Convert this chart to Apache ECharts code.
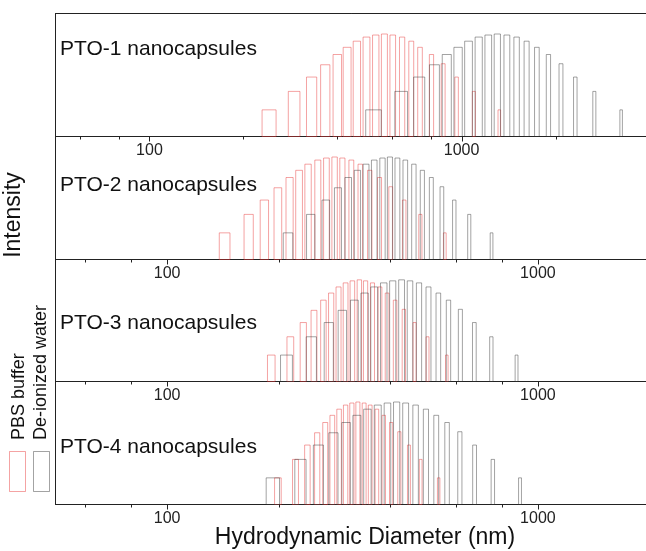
<!DOCTYPE html>
<html>
<head>
<meta charset="utf-8">
<script src="https://cdn.jsdelivr.net/npm/echarts@6/dist/echarts.min.js"></script>
<style>
  html, body { margin: 0; padding: 0; background: #fff; }
  #chart { width: 646px; height: 551px; }
</style>
</head>
<body>
<div id="chart"></div>
<script>
// panel names
const samples = ['PTO-1 nanocapsules', 'PTO-2 nanocapsules', 'PTO-3 nanocapsules', 'PTO-4 nanocapsules'];

// intensity of each size bin, % of the peak (same bin order for every curve)
const intensity = [26, 44, 58, 70, 80, 87, 93, 97, 99, 100, 99, 97, 93, 87, 80, 71, 58, 44, 26];

// bin centres (nm), PBS buffer
const pbs1 = [242, 291, 331, 366, 400, 430, 462, 496, 531, 566, 602, 645, 690, 736, 801, 873, 964, 1095, 1321];
const pbs2 = [143, 166, 183, 199, 214, 227, 240, 255, 269, 283, 297, 314, 332, 352, 374, 401, 436, 482, 561];
const pbs3 = [191, 215, 233, 249, 264, 277, 290, 303, 316, 330, 343, 358, 375, 392, 412, 435, 465, 504, 568];
const pbs4 = [199, 222, 239, 254, 267, 279, 291, 303, 315, 327, 340, 353, 368, 384, 402, 423, 449, 483, 540];

// bin centres (nm), de-ionized water
const diw1 = [523, 641, 732, 819, 897, 975, 1053, 1135, 1218, 1302, 1397, 1501, 1616, 1743, 1898, 2082, 2314, 2663, 3245];
const diw2 = [212, 244, 268, 289, 308, 326, 344, 362, 381, 399, 418, 439, 463, 488, 516, 551, 595, 653, 750];
const diw3 = [210, 245, 273, 297, 320, 341, 362, 384, 406, 429, 452, 478, 507, 539, 574, 618, 674, 749, 876];
const diw4 = [193, 229, 256, 281, 304, 325, 347, 370, 393, 416, 440, 468, 499, 532, 569, 616, 675, 756, 895];

// bin widths (nm)
const pbsBinWidth = [25, 9.5, 9, 8.2];
const diwBinWidth = [60, 12.6, 15.5, 16];

// x axis (log) range and ticks
const xMin = 50;
const xMax = [4000, 2000, 2000, 2000];
const majorTicks = [100, 1000];
const minorTicks = [60, 80, 200, 400, 600, 800, 2000];

const pbsSets = [pbs1, pbs2, pbs3, pbs4];
const diwSets = [diw1, diw2, diw3, diw4];

// layout
const FONT = '"Liberation Sans", Arial, sans-serif';
const gridTop = [13.5, 136.5, 259.5, 381.5];
const gridHeight = [123, 123, 122, 123];
const nameY = [49, 185, 323, 447];
const PBS_COLOR = 'rgba(230, 50, 50, 0.45)';
const DIW_COLOR = 'rgba(50, 50, 50, 0.45)';
const AXIS_COLOR = '#222';

const chart = echarts.init(document.getElementById('chart'), null, { renderer: 'canvas' });

function barItem(width, color) {
    return function (params, api) {
        const x = api.value(0);
        const y = api.value(1);
        const a = api.coord([x - width / 2, 0]);
        const b = api.coord([x + width / 2, y]);
        return {
            type: 'rect',
            shape: { x: a[0], y: b[1], width: b[0] - a[0], height: a[1] - b[1] },
            style: { fill: 'none', stroke: color, lineWidth: 1 }
        };
    };
}

function tickItem(len) {
    return function (params, api) {
        const p = api.coord([api.value(0), 0]);
        const x = Math.round(p[0]) + 0.5;
        return {
            type: 'line',
            shape: { x1: x, y1: p[1], x2: x, y2: p[1] + len },
            style: { stroke: AXIS_COLOR, lineWidth: 1 }
        };
    };
}

const axisLine = { show: true, lineStyle: { color: AXIS_COLOR, width: 1 } };
const grid = [], xAxis = [], yAxis = [], series = [];

samples.forEach((name, i) => {
    grid.push({
        left: 55.5, width: 594, top: gridTop[i], height: gridHeight[i],
        outerBoundsMode: 'none', containLabel: false, show: false
    });
    xAxis.push({
        type: 'log', logBase: 10, gridIndex: i, position: 'bottom', min: xMin, max: xMax[i],
        axisLine: axisLine, axisTick: { show: false },
        splitLine: { show: false }, minorTick: { show: false },
        axisLabel: {
            showMinLabel: false, showMaxLabel: false, margin: 6,
            fontSize: 16, fontFamily: FONT, color: AXIS_COLOR,
            formatter: v => majorTicks.includes(Math.round(v)) ? String(Math.round(v)) : ''
        }
    });
    yAxis.push({
        type: 'value', gridIndex: i, min: 0, max: 120, position: 'left',
        axisLine: axisLine, axisTick: { show: false }, axisLabel: { show: false },
        splitLine: { show: false }
    });

    series.push({
        type: 'custom', name: 'PBS buffer', xAxisIndex: i, yAxisIndex: i, clip: false, silent: true,
        renderItem: barItem(pbsBinWidth[i], PBS_COLOR),
        data: pbsSets[i].map((d, k) => [d, intensity[k]])
    });
    series.push({
        type: 'custom', name: 'De-ionized water', xAxisIndex: i, yAxisIndex: i, clip: false, silent: true,
        renderItem: barItem(diwBinWidth[i], DIW_COLOR),
        data: diwSets[i].map((d, k) => [d, intensity[k]])
    });
    series.push({
        type: 'custom', xAxisIndex: i, yAxisIndex: i, clip: false, silent: true,
        renderItem: tickItem(5),
        data: majorTicks.map(v => [v, 0])
    });
    series.push({
        type: 'custom', xAxisIndex: i, yAxisIndex: i, clip: false, silent: true,
        renderItem: tickItem(3),
        data: minorTicks.filter(v => v < xMax[i]).map(v => [v, 0])
    });
});

// top frame line of the first panel
xAxis.push({
    type: 'log', logBase: 10, gridIndex: 0, position: 'top', min: xMin, max: xMax[0],
    axisLine: axisLine, axisTick: { show: false }, axisLabel: { show: false },
    splitLine: { show: false }
});

const textStyle = (text, size, extra) => Object.assign({
    text: text, fontSize: size, fontFamily: FONT, fill: '#111'
}, extra);

const graphic = samples.map((name, i) => ({
    type: 'text', x: 60, y: nameY[i],
    style: textStyle(name, 21, { align: 'left', verticalAlign: 'middle', textAlign: 'left', textVerticalAlign: 'middle' })
}));

graphic.push(
    {
        type: 'text', x: 14, y: 215, rotation: Math.PI / 2,
        style: textStyle('Intensity', 23, { align: 'center', verticalAlign: 'middle', textAlign: 'center', textVerticalAlign: 'middle' })
    },
    {
        type: 'text', x: 365, y: 538,
        style: textStyle('Hydrodynamic Diameter (nm)', 23, { align: 'center', verticalAlign: 'middle', textAlign: 'center', textVerticalAlign: 'middle' })
    },
    {
        type: 'text', x: 19, y: 440, rotation: Math.PI / 2,
        style: textStyle('PBS buffer', 18, { align: 'left', verticalAlign: 'middle', textAlign: 'left', textVerticalAlign: 'middle' })
    },
    {
        type: 'text', x: 41, y: 440, rotation: Math.PI / 2,
        style: textStyle('De-ionized water', 18, { align: 'left', verticalAlign: 'middle', textAlign: 'left', textVerticalAlign: 'middle' })
    },
    {
        type: 'rect', shape: { x: 9.5, y: 451.5, width: 16, height: 40 },
        style: { fill: 'none', stroke: PBS_COLOR, lineWidth: 1 }
    },
    {
        type: 'rect', shape: { x: 33.5, y: 451.5, width: 16, height: 40 },
        style: { fill: 'none', stroke: DIW_COLOR, lineWidth: 1 }
    }
);

chart.setOption({
    backgroundColor: '#fff',
    animation: false,
    grid: grid,
    xAxis: xAxis,
    yAxis: yAxis,
    series: series,
    graphic: graphic
});
</script>
</body>
</html>
